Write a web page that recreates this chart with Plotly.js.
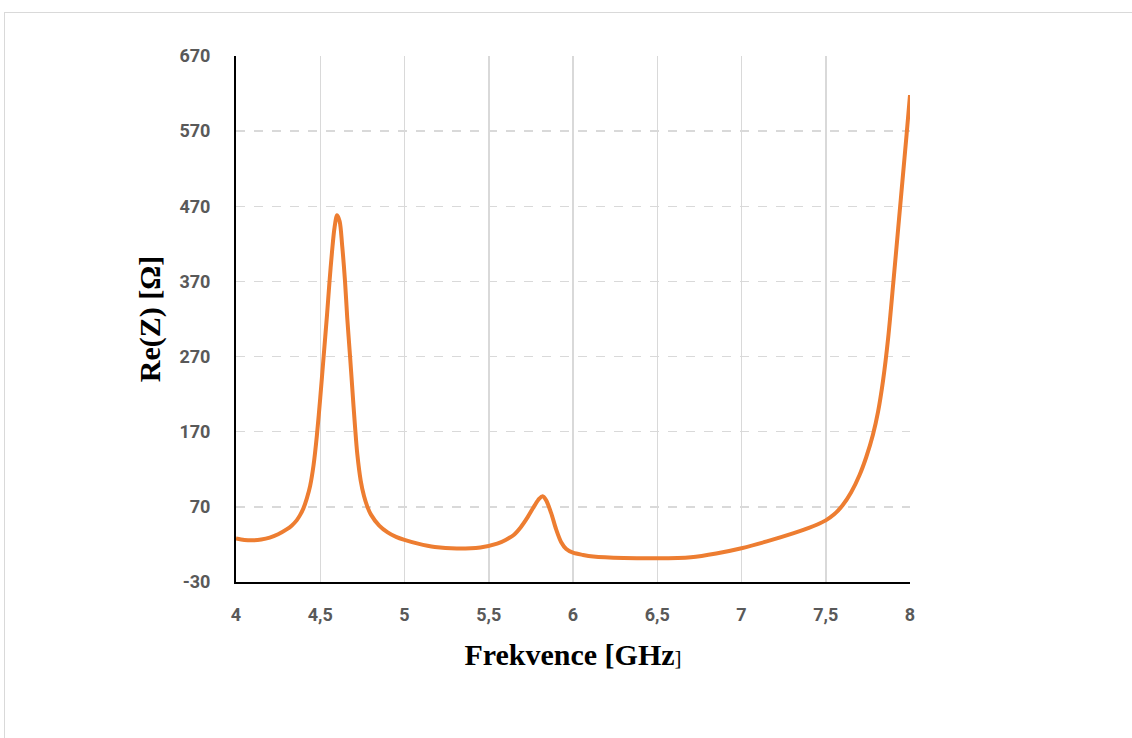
<!DOCTYPE html>
<html>
<head>
<meta charset="utf-8">
<script src="https://cdn.plot.ly/plotly-3.0.1.min.js"></script>
<style>
  html, body { margin: 0; padding: 0; background: #ffffff; }
  #wrap { position: relative; width: 1132px; height: 738px; overflow: hidden; }
  #chart { position: absolute; left: 0; top: 0; width: 1132px; height: 738px; }
  #frame { position: absolute; left: 4px; top: 12px; width: 1140px; height: 740px; border: 1.5px solid #d9d9d9; pointer-events: none; }
</style>
</head>
<body>
<div id="wrap">
  <div id="chart"></div>
  <div id="frame"></div>
</div>
<script>
// Frequency [GHz]
const freq = [4.00, 4.05, 4.10, 4.15, 4.20, 4.25, 4.30, 4.33, 4.36, 4.38, 4.40, 4.42, 4.44, 4.46, 4.48,
              4.50, 4.52, 4.54, 4.555, 4.57, 4.585, 4.60, 4.615, 4.63, 4.647, 4.66, 4.677, 4.69, 4.706,
              4.72, 4.74, 4.76, 4.78, 4.80, 4.85, 4.90, 4.95, 5.00, 5.08, 5.18, 5.31, 5.45, 5.55, 5.60, 5.65,
              5.69, 5.73, 5.77, 5.80, 5.82, 5.84, 5.87, 5.90, 5.93, 5.96, 6.00, 6.06, 6.12, 6.30, 6.50,
              6.70, 6.85, 7.00, 7.15, 7.31, 7.40, 7.45, 7.50, 7.55, 7.60, 7.65, 7.70, 7.74, 7.78, 7.81,
              7.84, 7.87, 7.90, 7.93, 7.96, 7.98, 8.00];
// Re(Z) [Ohm]
const reZ = [28, 26, 25.5, 26.5, 29, 33.5, 40, 45, 52, 59, 68, 81, 98, 125, 165,
             215, 270, 325, 370, 410, 442, 458, 450, 418, 370, 322, 270, 228, 178,
             140, 105, 84, 70, 60, 45, 36, 30, 26, 21, 16.5, 14.5, 16, 21, 26, 33,
             43, 56, 71, 81, 84, 79, 62, 40, 23, 14, 9, 6, 4, 2, 1.5,
             3, 8, 15, 24, 35, 42, 46.5, 52, 60, 72, 89, 112, 136, 166, 196,
             238, 294, 366, 441, 516, 566, 618];
const xTickVals = [4, 4.5, 5, 5.5, 6, 6.5, 7, 7.5, 8];
const xTickText = ['4', '4,5', '5', '5,5', '6', '6,5', '7', '7,5', '8'];
const yTickVals = [-30, 70, 170, 270, 370, 470, 570, 670];
const yTickText = ['-30', '70', '170', '270', '370', '470', '570', '670'];

const tickFont = { family: 'Roboto, Arial, sans-serif', size: 18, color: '#595959', weight: 'bold' };
const titleFont = { family: '"Liberation Serif", "Times New Roman", serif', size: 30, color: '#000000' };

Plotly.newPlot('chart', [{
  x: freq, y: reZ, type: 'scatter', mode: 'lines',
  line: { color: '#ED7D31', width: 4, shape: 'spline', smoothing: 0.9 },
  hoverinfo: 'skip'
}], {
  width: 1132, height: 738,
  margin: { l: 236, r: 222, t: 56, b: 156 },
  paper_bgcolor: 'rgba(0,0,0,0)', plot_bgcolor: '#ffffff',
  showlegend: false,
  xaxis: {
    range: [4, 8], tickvals: xTickVals, ticktext: xTickText,
    showgrid: true, gridcolor: '#d9d9d9', gridwidth: 1.5,
    showline: true, linecolor: '#000000', linewidth: 2,
    zeroline: false, ticks: 'outside', ticklen: 15, tickcolor: 'rgba(0,0,0,0)',
    tickfont: tickFont,
    title: { text: '<b>Frekvence [GHz</b><span style="font-size:21px">]</span>',
             font: titleFont, standoff: 20 },
    automargin: false
  },
  yaxis: {
    range: [-30, 670], tickvals: yTickVals, ticktext: yTickText,
    showgrid: true, gridcolor: '#d9d9d9', gridwidth: 1.5, griddash: 'dash',
    showline: true, linecolor: '#000000', linewidth: 2,
    zeroline: false, ticks: 'outside', ticklen: 20, tickcolor: 'rgba(0,0,0,0)',
    tickfont: tickFont,
    title: { text: '<b>Re(Z) [Ω]</b>', font: titleFont, standoff: 10 },
    automargin: false
  }
}, { staticPlot: true });
</script>
</body>
</html>
